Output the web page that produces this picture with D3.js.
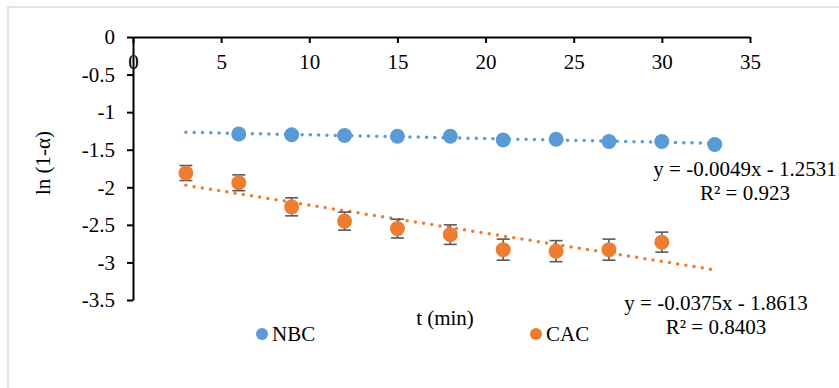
<!DOCTYPE html>
<html>
<head>
<meta charset="utf-8">
<script src="https://cdn.jsdelivr.net/npm/d3@7/dist/d3.min.js"></script>
<style>
  html, body { margin: 0; padding: 0; background: #fff; }
  svg { display: block; }
  text { font-family: "Liberation Serif", "Times New Roman", serif; fill: #000; }
</style>
</head>
<body>
<svg id="chart" width="839" height="388"></svg>
<script>
// ---- data ----
const xTicks = [0, 5, 10, 15, 20, 25, 30, 35];
const yTicks = [0, -0.5, -1, -1.5, -2, -2.5, -3, -3.5];
const yTickLabels = ["0", "-0.5", "-1", "-1.5", "-2", "-2.5", "-3", "-3.5"];

const nbcT = [6, 9, 12, 15, 18, 21, 24, 27, 30, 33];
const nbcY = [-1.29, -1.30, -1.31, -1.32, -1.32, -1.37, -1.36, -1.39, -1.39, -1.43];

const cacT = [3, 6, 9, 12, 15, 18, 21, 24, 27, 30];
const cacY = [-1.81, -1.94, -2.26, -2.45, -2.55, -2.63, -2.83, -2.85, -2.83, -2.73];
const cacErr = [0.10, 0.105, 0.12, 0.12, 0.125, 0.13, 0.14, 0.14, 0.14, 0.133];

const seriesNames = ["NBC", "CAC"];
const trendSlope = [-0.0049, -0.0375];
const trendIntercept = [-1.2531, -1.8613];
const trendRange = [3, 33];
const eqLabels = ["y = -0.0049x - 1.2531", "y = -0.0375x - 1.8613"];
const r2Labels = ["R² = 0.923", "R² = 0.8403"];

const colors = ["#5b9bd5", "#ed7d31"];

// ---- drawing ----
const svg = d3.select("#chart");
svg.append("rect").attr("x", 0).attr("y", 0).attr("width", 839).attr("height", 388).attr("fill", "#fff");
svg.append("rect").attr("x", 8).attr("y", 7).attr("width", 860).attr("height", 420)
  .attr("fill", "none").attr("stroke", "#d9d9d9").attr("stroke-width", 1.5);

const x = d3.scaleLinear().domain([0, 35]).range([133, 750]);
const y = d3.scaleLinear().domain([-3.5, 0]).range([300, 37]);

const fs = 21;
const serif = '"Liberation Serif", "Times New Roman", serif';

// x axis (top, ticks down)
const xAxis = svg.append("g").attr("transform", `translate(0,${y(0)})`)
  .call(d3.axisBottom(x).tickValues(xTicks).tickSize(6).tickSizeOuter(0).tickPadding(11).tickFormat(d3.format("d")));
// y axis
const yAxis = svg.append("g").attr("transform", `translate(${x(0)},0)`)
  .call(d3.axisLeft(y).tickValues(yTicks).tickSize(6).tickSizeOuter(0).tickPadding(12)
    .tickFormat((d, i) => yTickLabels[i]));

[xAxis, yAxis].forEach(g => {
  g.attr("font-family", null).attr("font-size", null);
  g.selectAll("path.domain").attr("stroke", "#000").attr("stroke-width", 2);
  g.selectAll(".tick line").attr("stroke", "#000").attr("stroke-width", 2);
  g.selectAll("text").style("font-size", fs + "px").style("font-family", serif).attr("fill", "#000");
});

// axis titles
svg.append("text").attr("x", 445).attr("y", 325).attr("text-anchor", "middle")
  .style("font-size", fs + "px").text("t (min)");
svg.append("text").attr("transform", "translate(50,163) rotate(-90)").attr("text-anchor", "middle")
  .style("font-size", fs + "px").text("ln (1-α)");

// trendlines
[0, 1].forEach(i => {
  svg.append("line")
    .attr("x1", x(trendRange[0])).attr("y1", y(trendSlope[i] * trendRange[0] + trendIntercept[i]))
    .attr("x2", x(trendRange[1])).attr("y2", y(trendSlope[i] * trendRange[1] + trendIntercept[i]))
    .attr("stroke", colors[i]).attr("stroke-width", 3.5)
    .attr("stroke-linecap", "round").attr("stroke-dasharray", "0,8.3");
});

// error bars CAC
const cac = cacT.map((t, i) => ({ t, v: cacY[i], e: cacErr[i] }));
const eb = svg.append("g").attr("stroke", "#595959").attr("stroke-width", 1.6);
cac.forEach(d => {
  const cx = x(d.t);
  eb.append("line").attr("x1", cx).attr("x2", cx).attr("y1", y(d.v + d.e)).attr("y2", y(d.v - d.e));
  eb.append("line").attr("x1", cx - 6.5).attr("x2", cx + 6.5).attr("y1", y(d.v + d.e)).attr("y2", y(d.v + d.e));
  eb.append("line").attr("x1", cx - 6.5).attr("x2", cx + 6.5).attr("y1", y(d.v - d.e)).attr("y2", y(d.v - d.e));
});

// markers
svg.append("g").selectAll("circle").data(nbcT.map((t, i) => ({ t, v: nbcY[i] }))).join("circle")
  .attr("cx", d => x(d.t)).attr("cy", d => y(d.v)).attr("r", 7.5).attr("fill", colors[0]);
svg.append("g").selectAll("circle").data(cac).join("circle")
  .attr("cx", d => x(d.t)).attr("cy", d => y(d.v)).attr("r", 7.5).attr("fill", colors[1]);

// equation labels
const eqPos = [{ cx: 745, b1: 176, b2: 200 }, { cx: 716, b1: 310, b2: 334 }];
[0, 1].forEach(i => {
  svg.append("text").attr("x", eqPos[i].cx).attr("y", eqPos[i].b1).attr("text-anchor", "middle")
    .style("font-size", fs + "px").text(eqLabels[i]);
  svg.append("text").attr("x", eqPos[i].cx).attr("y", eqPos[i].b2).attr("text-anchor", "middle")
    .style("font-size", fs + "px").text(r2Labels[i]);
});

// legend
const legX = [262, 536];
[0, 1].forEach(i => {
  svg.append("circle").attr("cx", legX[i]).attr("cy", 334).attr("r", 6).attr("fill", colors[i]);
  svg.append("text").attr("x", legX[i] + 10).attr("y", 341).style("font-size", fs + "px").text(seriesNames[i]);
});
</script>
</body>
</html>
